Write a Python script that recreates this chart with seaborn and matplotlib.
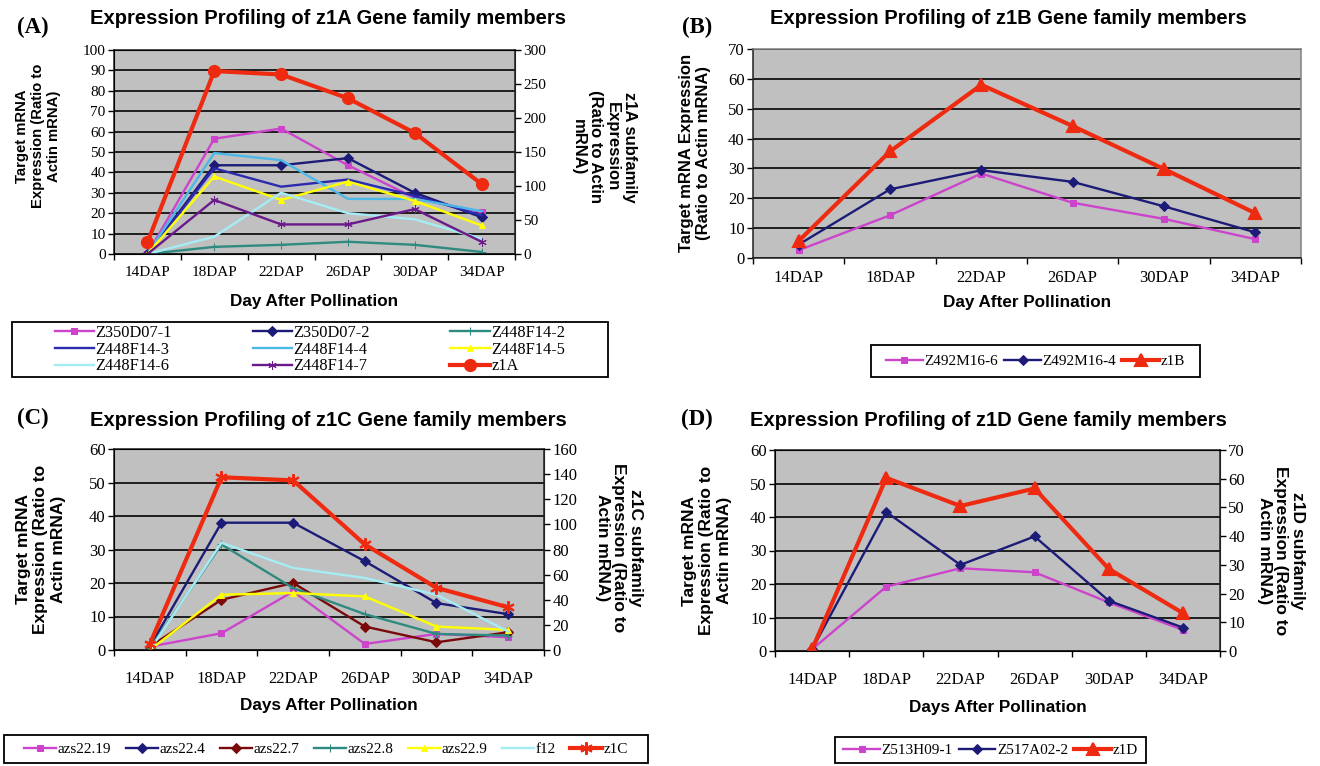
import numpy as np
import matplotlib
matplotlib.use('Agg')
import matplotlib.pyplot as plt
from matplotlib.patches import Rectangle
import seaborn as sns

# x categories
days = ['14DAP', '18DAP', '22DAP', '26DAP', '30DAP', '34DAP']

# (A) z1A family members (left axis) and z1A subfamily (right axis)
z350d07_1 = [0, 56.5, 61.5, 43.5, 27.5, 20.5]
z350d07_2 = [0, 43.5, 43.5, 47, 30, 18]
z448f14_2 = [0, 3.5, 4.5, 6, 4.5, 1]
z448f14_3 = [0, 42, 33, 36.5, 28.5, 19]
z448f14_4 = [0, 49.5, 46, 27, 27, 21]
z448f14_5 = [0, 38, 26.5, 35.5, 26, 14]
z448f14_6 = [0, 8.5, 30, 20, 17, 7.5]
z448f14_7 = [0, 26.5, 14.5, 14.5, 22, 6]
z1a = [17, 269, 264, 229, 178, 103]

# (B) z1B family
z492m16_6 = [2.6, 14.3, 28.3, 18.5, 13.1, 6.3]
z492m16_4 = [4.5, 23, 29.4, 25.5, 17.3, 8.6]
z1b = [5.7, 35.7, 58, 44.2, 29.8, 15]

# (C) z1C family
azs22_19 = [1, 5, 17.5, 1.8, 4.8, 3.8]
azs22_4 = [1, 38, 38, 26.5, 14, 10.7]
azs22_7 = [1, 15, 20, 7, 2.3, 5.3]
azs22_8 = [0.5, 31.5, 18.5, 10.7, 4.8, 4.3]
azs22_9 = [0, 16.5, 17, 16, 7, 6]
f12 = [0, 32, 24.5, 21.5, 16.5, 5.5]
z1c = [4.8, 137.5, 135, 84, 49.5, 34]

# (D) z1D family
z513h09_1 = [0.5, 19.2, 24.7, 23.5, 14.5, 6.3]
z517a02_2 = [0.5, 41.5, 25.7, 34.2, 15, 7]
z1d = [0.6, 60.3, 50.5, 56.6, 28.6, 13.2]

# colour / marker per series (Excel look)
MAG, NAVY, TEAL, BLUE = '#cc44cc', '#1c1c78', '#2f8a80', '#2b2bb0'
SKY, YEL, PALE, PURP = '#4cb8e8', '#ffff00', '#a6ecf5', '#6b1a8a'
DRED, RED = '#7a0a0a', '#ee2a10'
AST = (6, 2, 0)

W, H = 1320, 766
fig = plt.figure(figsize=(W / 100, H / 100), dpi=100)
plt.rcParams['font.family'] = ['Liberation Serif', 'DejaVu Serif']

SANS = 'Liberation Sans'


def px(x0, y0, x1, y1):
    return [x0 / W, 1 - y1 / H, (x1 - x0) / W, (y1 - y0) / H]


def style_axis(ax, top, step, pad, fs):
    ax.set_facecolor('#c0c0c0')
    ax.set_xlim(-0.5, 5.5)
    ax.set_ylim(0, top)
    ax.set_yticks(np.arange(0, top + 1, step))
    ax.set_xticks(range(len(days)), days)
    ax.set_xticks(np.arange(-0.5, 6, 1), minor=True)
    ax.tick_params(axis='x', which='major', length=0, pad=pad, labelsize=fs)
    ax.tick_params(axis='x', which='minor', length=4, width=1, direction='out')
    ax.tick_params(axis='y', length=4, width=1, labelsize=fs, pad=2)
    ax.yaxis.grid(True, color='#111111', lw=1.3)
    ax.set_axisbelow(True)
    for s in ax.spines.values():
        s.set_color('#222222')
        s.set_linewidth(1.1)


def right_axis(ax2, top, step, fs):
    ax2.set_ylim(0, top)
    ax2.set_yticks(np.arange(0, top + 1, step))
    ax2.tick_params(axis='y', length=4, width=1, labelsize=fs, pad=2)
    ax2.spines['right'].set_color('#222222')


def member(ax, vals, name, color, marker=None, ms=5):
    sns.lineplot(x=days, y=vals, ax=ax, color=color, marker=marker, markersize=ms,
                 markeredgecolor=color, linewidth=1.7, label=name, legend=False)


def main_line(ax, vals, name, marker, ms=7):
    sns.lineplot(x=days, y=vals, ax=ax, color=RED, marker=marker, markersize=ms,
                 markeredgecolor=RED, markeredgewidth=1.5, linewidth=3,
                 label=name, legend=False)


def labels(ax, xlabel, xl_y, ylabel, yl_x, yl_y, fs):
    ax.set_xlabel(xlabel, family=SANS, weight='bold', fontsize=12.3)
    ax.xaxis.label.set_va('center')
    ax.xaxis.set_label_coords(0.5, xl_y)
    ax.set_ylabel(ylabel, family=SANS, weight='bold', fontsize=fs, linespacing=1.2)
    ax.yaxis.label.set_va('center')
    ax.yaxis.set_label_coords(yl_x, yl_y)


def right_label(ax2, text, x, y, fs):
    ax2.set_ylabel(text, family=SANS, weight='bold', fontsize=fs, rotation=270,
                   linespacing=1.15)
    ax2.yaxis.label.set_va('center')
    ax2.yaxis.set_label_coords(x, y)


def legend_box(handles, names, box, ncol, colsp, fs=11, hl=2.6, rowsp=0.05):
    x0, y0, x1, y1 = box
    fig.add_artist(Rectangle((x0 / W, 1 - y1 / H), (x1 - x0) / W, (y1 - y0) / H,
                             transform=fig.transFigure, fill=False,
                             edgecolor='black', lw=1.3))
    fig.legend(handles, names, loc='center',
               bbox_to_anchor=((x0 + x1) / 2 / W, 1 - (y0 + y1) / 2 / H),
               ncol=ncol, frameon=False, prop={'family': 'Liberation Serif', 'size': fs},
               handlelength=hl, handletextpad=0.1, columnspacing=colsp,
               labelspacing=rowsp, borderpad=0, numpoints=1)


def titles(letter, lx, ly, title, tx, ty):
    fig.text(lx / W, 1 - ly / H, letter, family='Liberation Serif', weight='bold',
             fontsize=16.5, ha='left', va='center')
    fig.text(tx / W, 1 - ty / H, title, family=SANS, weight='bold',
             fontsize=14.5, ha='left', va='center')


# ---------------- (A)
ax = fig.add_axes(px(114, 50, 515, 254))
member(ax, z350d07_1, 'Z350D07-1', MAG, 's')
member(ax, z350d07_2, 'Z350D07-2', NAVY, 'D')
member(ax, z448f14_2, 'Z448F14-2', TEAL, '+', 6)
member(ax, z448f14_3, 'Z448F14-3', BLUE)
member(ax, z448f14_4, 'Z448F14-4', SKY)
member(ax, z448f14_5, 'Z448F14-5', YEL, '^')
member(ax, z448f14_6, 'Z448F14-6', PALE)
member(ax, z448f14_7, 'Z448F14-7', PURP, AST, 6)
ax2 = ax.twinx()
main_line(ax2, z1a, 'z1A', 'o', 8)
style_axis(ax, 100, 10, 9, 11)
right_axis(ax2, 300, 50, 11)
labels(ax, 'Day After Pollination', -0.235, 'Target mRNA\nExpression (Ratio to\nActin mRNA)',
       -0.19, 0.578, 10.7)
right_label(ax2, 'z1A subfamily\nExpression\n(Ratio to Actin\nmRNA)', 1.222, 0.525, 12)
h, l = ax.get_legend_handles_labels()
h2, l2 = ax2.get_legend_handles_labels()
h, l = h + h2, l + l2
order = [0, 3, 6, 1, 4, 7, 2, 5, 8]
legend_box([h[i] for i in order], [l[i] for i in order], (12, 322, 608, 377), 3, 4.9,
           fs=11.8, hl=2.4)
titles('(A)', 17, 27, 'Expression Profiling of z1A Gene family members', 90, 18)

# ---------------- (B)
ax = fig.add_axes(px(753, 49, 1301, 258))
member(ax, z492m16_6, 'Z492M16-6', MAG, 's')
member(ax, z492m16_4, 'Z492M16-4', NAVY, 'D')
main_line(ax, z1b, 'z1B', '^', 8)
style_axis(ax, 70, 10, 9, 12)
for s in ['top', 'right']:
    ax.spines[s].set_color('#808080')
labels(ax, 'Day After Pollination', -0.211, 'Target mRNA Expression\n(Ratio to Actin mRNA)',
       -0.106, 0.502, 12)
h, l = ax.get_legend_handles_labels()
legend_box(h, l, (871, 345, 1200, 377), 3, 0.4, fs=11, hl=2.4)
titles('(B)', 682, 27, 'Expression Profiling of z1B Gene family members', 770, 18)

# ---------------- (C)
ax = fig.add_axes(px(114, 449, 544, 650))
member(ax, azs22_19, 'azs22.19', MAG, 's')
member(ax, azs22_4, 'azs22.4', NAVY, 'D')
member(ax, azs22_7, 'azs22.7', DRED, 'D')
member(ax, azs22_8, 'azs22.8', TEAL, '+', 6)
member(ax, azs22_9, 'azs22.9', YEL, '^')
member(ax, f12, 'f12', PALE)
ax2 = ax.twinx()
main_line(ax2, z1c, 'z1C', AST, 9)
style_axis(ax, 60, 10, 15, 12)
right_axis(ax2, 160, 20, 12)
labels(ax, 'Days After Pollination', -0.274, 'Target mRNA\nExpression (Ratio to\nActin mRNA)',
       -0.17, 0.5, 12.5)
right_label(ax2, 'z1C subfamily\nExpression (Ratio to\nActin mRNA)', 1.174, 0.51, 12.5)
h, l = ax.get_legend_handles_labels()
h2, l2 = ax2.get_legend_handles_labels()
legend_box(h + h2, l + l2, (4, 735, 648, 763), 7, 0.95, fs=11, hl=2.1)
titles('(C)', 17, 418, 'Expression Profiling of z1C Gene family members', 90, 420)

# ---------------- (D)
ax = fig.add_axes(px(775, 450, 1220, 651))
member(ax, z513h09_1, 'Z513H09-1', MAG, 's')
member(ax, z517a02_2, 'Z517A02-2', NAVY, 'D')
ax2 = ax.twinx()
main_line(ax2, z1d, 'z1D', '^', 8)
style_axis(ax, 60, 10, 15, 12)
right_axis(ax2, 70, 10, 12)
labels(ax, 'Days After Pollination', -0.279, 'Target mRNA\nExpression (Ratio to\nActin mRNA)',
       -0.153, 0.5, 12.5)
right_label(ax2, 'z1D subfamily\nExpression (Ratio to\nActin mRNA)', 1.137, 0.5, 12.5)
h, l = ax.get_legend_handles_labels()
h2, l2 = ax2.get_legend_handles_labels()
legend_box(h + h2, l + l2, (835, 737, 1146, 763), 3, 0.4, fs=11, hl=2.4)
titles('(D)', 681, 419, 'Expression Profiling of z1D Gene family members', 750, 420)

fig.savefig('out.png', dpi=100, facecolor='white')
